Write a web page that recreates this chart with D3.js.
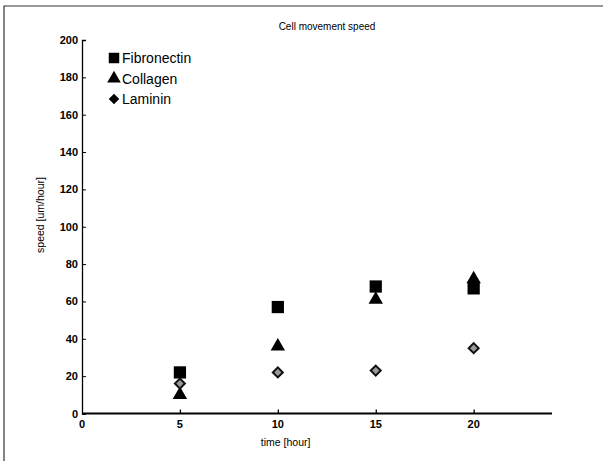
<!DOCTYPE html>
<html>
<head>
<meta charset="utf-8">
<script src="https://cdn.jsdelivr.net/npm/d3@7"></script>
<style>
  body { margin: 0; background: #fff; }
  text { font-family: "Liberation Sans", Arial, sans-serif; fill: #000; }
  .tic-label { font-size: 11px; font-weight: bold; }
  .legend-label { font-size: 14px; }
</style>
</head>
<body>
<div id="chart"></div>
<script>
/* Data ***********************************************************************/

var times = [5, 10, 15, 20];
var fibronectin = [22, 57, 68, 67];
var collagen = [10, 36, 61, 72];
var laminin = [16, 22, 23, 35];

var series_names = ['Fibronectin', 'Collagen', 'Laminin'];
var ytic_values = [0, 20, 40, 60, 80, 100, 120, 140, 160, 180, 200];
var xtic_values = [0, 5, 10, 15, 20];

/* Plot ***********************************************************************/

function build_plot()
{
    let width = 603,
        height = 461,
        margin = { top: 40, bottom: 47.5, left: 82, right: 51 };

    let svg = d3.select('#chart').append('svg')
        .attr('width', width)
        .attr('height', height);

    // scanned page frame
    svg.append('path')
        .attr('d', d3.line()([[4, 461], [4, 6], [603, 6]]))
        .attr('fill', 'none')
        .attr('stroke', '#333')
        .attr('stroke-width', 1.2);

    let x = d3.scaleLinear().domain([0, 24]).range([margin.left, width - margin.right]),
        y = d3.scaleLinear().domain([0, 200]).range([height - margin.bottom, margin.top]);

    // y axis, tics point inward
    let yaxis = svg.append('g')
        .attr('transform', `translate(${margin.left},0)`)
        .call(d3.axisRight(y).tickValues(ytic_values).tickSize(4).tickFormat(''));
    yaxis.select('.domain').attr('stroke', '#000').attr('stroke-width', 1.3);
    yaxis.selectAll('.tick line').attr('stroke', '#000');

    svg.append('g').selectAll('text').data(ytic_values).enter()
        .append('text')
        .attr('x', margin.left - 4)
        .attr('y', (v) => y(v) + 4)
        .attr('text-anchor', 'end')
        .text((v) => v)
        .attr('class', 'tic-label');

    // x axis, tics point up
    let xaxis = svg.append('g')
        .attr('transform', `translate(0,${y(0)})`)
        .call(d3.axisTop(x).tickValues(xtic_values.slice(1)).tickSize(4).tickFormat(''));
    xaxis.select('.domain').remove();
    xaxis.selectAll('.tick line').attr('stroke', '#000').attr('stroke-width', 1.3);
    svg.append('path')
        .attr('d', d3.line()([[margin.left, y(0)], [x(24), y(0)]]))
        .attr('stroke', '#000')
        .attr('stroke-width', 2.2);

    svg.append('g').selectAll('text').data(xtic_values).enter()
        .append('text')
        .attr('x', (v) => x(v))
        .attr('y', y(0) + 14)
        .attr('text-anchor', 'middle')
        .text((v) => v)
        .attr('class', 'tic-label');

    // labels
    svg.append('text')
        .attr('x', 327).attr('y', 30)
        .attr('text-anchor', 'middle')
        .style('font-size', '10px')
        .text('Cell movement speed');

    svg.append('text')
        .attr('x', x(10.4)).attr('y', 446)
        .attr('text-anchor', 'middle')
        .style('font-size', '10.5px')
        .text('time [hour]');

    let lx = 44, ly = 215;
    svg.append('text')
        .attr('x', lx).attr('y', ly)
        .attr('transform', `rotate(-90, ${lx}, ${ly})`)
        .attr('text-anchor', 'middle')
        .style('font-size', '10.5px')
        .text('speed [um/hour]');

    // markers (diamond = square turned 45 degrees)
    let shapes = [
        { sym: d3.symbolSquare, size: 150, rot: 0, fill: '#000', stroke: 'none', vals: fibronectin },
        { sym: d3.symbolTriangle, size: 90, rot: 0, fill: '#000', stroke: 'none', vals: collagen },
        { sym: d3.symbolSquare, size: 50, rot: 45, fill: '#999', stroke: '#111', vals: laminin }
    ];

    let points = svg.append('g');
    shapes.forEach(s => {
        points.append('g').selectAll('path').data(s.vals).enter()
            .append('path')
            .attr('transform', (v, i) => `translate(${x(times[i])},${y(v)}) rotate(${s.rot})`)
            .attr('d', d3.symbol().type(s.sym).size(s.size))
            .attr('fill', s.fill)
            .attr('stroke', s.stroke)
            .attr('stroke-width', 2);
    });

    // legend
    let legend = svg.append('g'),
        legend_sizes = [110, 80, 55];
    series_names.forEach((name, i) => {
        let s = shapes[i], yy = 58 + i * 20.5;
        legend.append('path')
            .attr('transform', `translate(114,${yy}) rotate(${s.rot})`)
            .attr('d', d3.symbol().type(s.sym).size(legend_sizes[i]))
            .attr('fill', '#000');
        legend.append('text')
            .attr('x', 122).attr('y', yy + 5)
            .text(name)
            .attr('class', 'legend-label');
    });
}

build_plot();
</script>
</body>
</html>
